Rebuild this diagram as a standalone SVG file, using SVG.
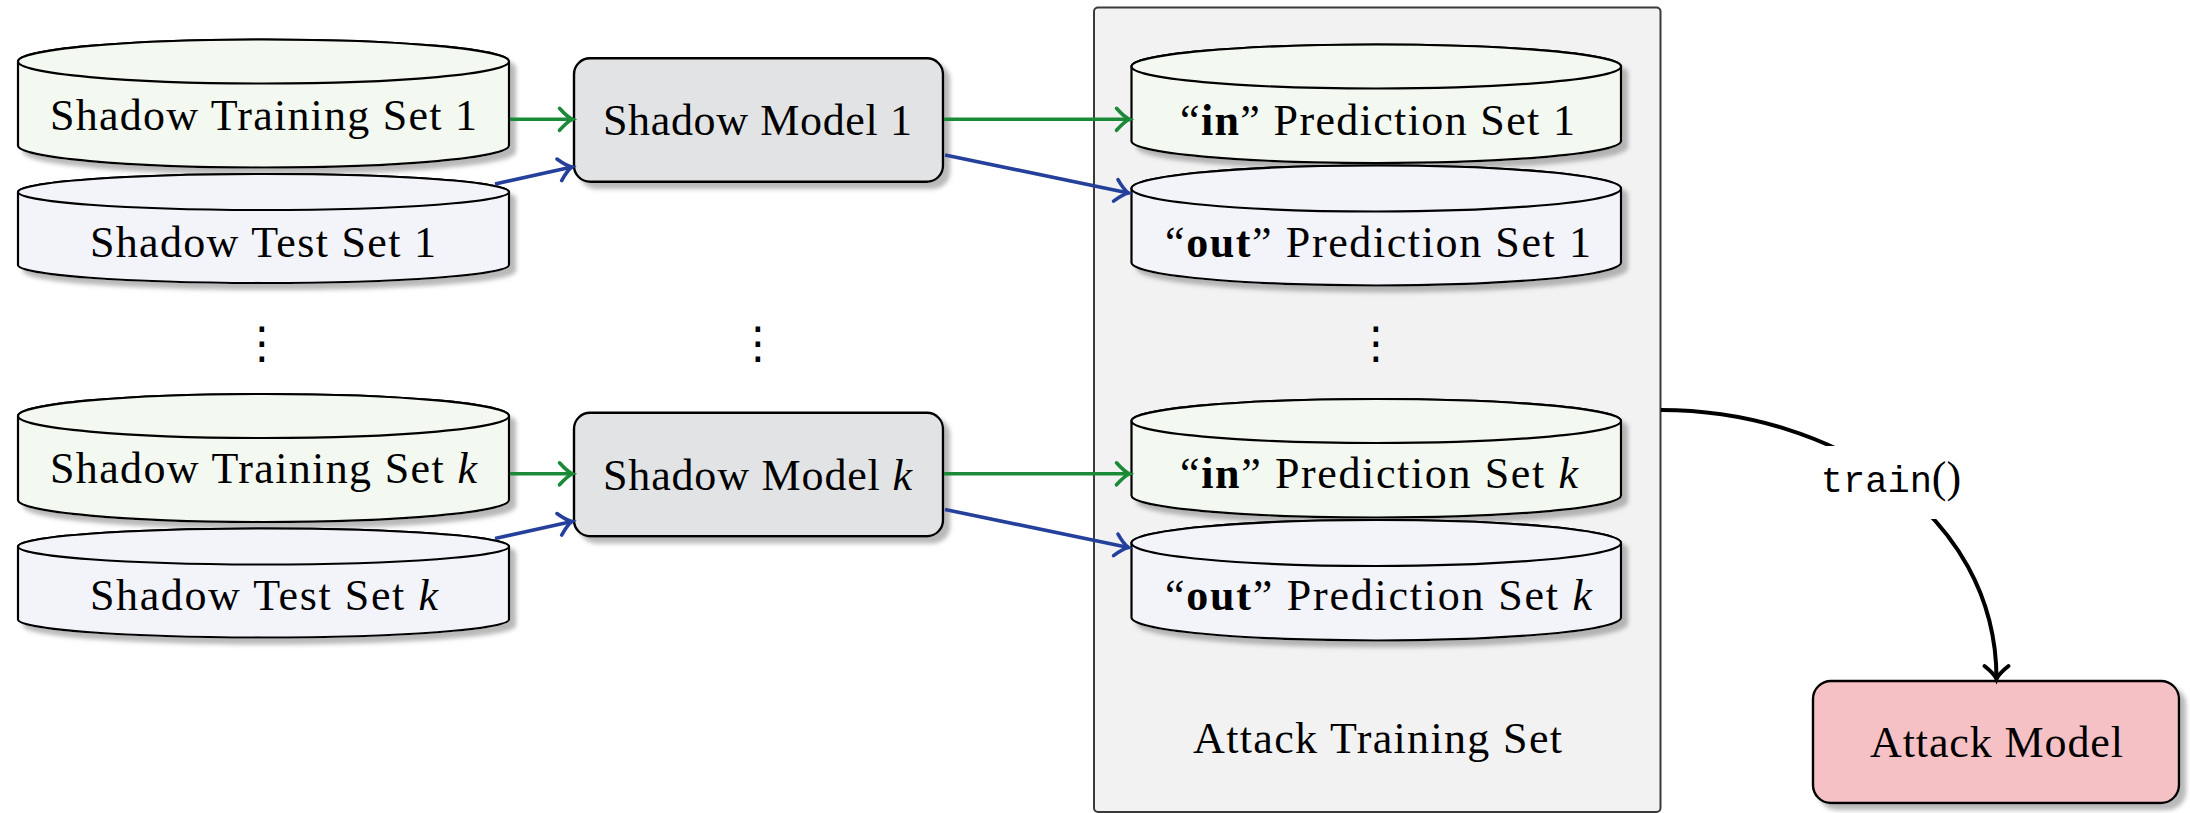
<svg xmlns="http://www.w3.org/2000/svg" width="2190" height="813" viewBox="0 0 2190 813">
<style>
.t{font-family:"Liberation Serif","Times New Roman",serif;font-size:44px;text-anchor:middle;fill:#000}
.b{font-weight:bold}
.i{font-style:italic}
.cyl{stroke:#000;stroke-width:2.2;filter:url(#ds)}
.top{stroke:#000;stroke-width:2.2}
.g{fill:#f3f8f0}
.l{fill:#f3f3fa}
.box{stroke:#000;stroke-width:2.4;filter:url(#ds)}
.ag{fill:none;stroke:#1a8a38;stroke-width:3.6;marker-end:url(#mg)}
.ab{fill:none;stroke:#24409a;stroke-width:3.6;marker-end:url(#mb)}
.ak{fill:none;stroke:#000;stroke-width:4;marker-end:url(#mk)}
.dots{font-family:"DejaVu Sans",sans-serif;font-size:44px;text-anchor:middle;fill:#000}
</style>
<defs>
<filter id="ds" x="-5%" y="-10%" width="115%" height="135%">
<feGaussianBlur in="SourceAlpha" stdDeviation="2"/>
<feOffset dx="6" dy="6" result="o"/>
<feFlood flood-color="#808080" flood-opacity="0.55"/>
<feComposite in2="o" operator="in"/>
<feMerge><feMergeNode/><feMergeNode in="SourceGraphic"/></feMerge>
</filter>
<marker id="mg" markerUnits="userSpaceOnUse" markerWidth="32" markerHeight="32" viewBox="-17 -16 22 32" refX="0" refY="0" orient="auto"><path d="M-13,-11 Q-5,-2 0,0 Q-5,2 -13,11" fill="none" stroke="#1a8a38" stroke-width="3.6" stroke-linecap="round"/></marker>
<marker id="mb" markerUnits="userSpaceOnUse" markerWidth="32" markerHeight="32" viewBox="-17 -16 22 32" refX="0" refY="0" orient="auto"><path d="M-13,-11 Q-5,-2 0,0 Q-5,2 -13,11" fill="none" stroke="#24409a" stroke-width="3.6" stroke-linecap="round"/></marker>
<marker id="mk" markerUnits="userSpaceOnUse" markerWidth="32" markerHeight="32" viewBox="-17 -16 22 32" refX="0" refY="0" orient="auto"><path d="M-13,-12 Q-5,-2 0,0 Q-5,2 -13,12" fill="none" stroke="#000" stroke-width="4" stroke-linecap="round"/></marker>
</defs>
<rect width="2190" height="813" fill="#fff"/>

<g id="attack-training-set">
<rect x="1094" y="7.5" width="566.5" height="804.5" rx="4" fill="#f2f2f2" stroke="#3a3a3a" stroke-width="2"/>
<text class="t" x="1377.5" y="753.3" textLength="369">Attack Training Set</text>
</g>

<g id="shadow-training-1">
<path class="cyl g" d="M18,61.5 L18,145.5 A245.5,22 0 0 0 509,145.5 L509,61.5 A245.5,22 0 0 0 18,61.5 Z"/>
<ellipse class="top g" cx="263.5" cy="61.5" rx="245.5" ry="22"/>
<text class="t" x="263.5" y="130" textLength="427">Shadow Training Set 1</text>
</g>
<g id="shadow-test-1">
<path class="cyl l" d="M18,192 L18,265 A245.5,18 0 0 0 509,265 L509,192 A245.5,18 0 0 0 18,192 Z"/>
<ellipse class="top l" cx="263.5" cy="192" rx="245.5" ry="18"/>
<text class="t" x="263" y="256.7" textLength="346">Shadow Test Set 1</text>
</g>
<g id="shadow-training-k">
<path class="cyl g" d="M18,416 L18,500 A245.5,22 0 0 0 509,500 L509,416 A245.5,22 0 0 0 18,416 Z"/>
<ellipse class="top g" cx="263.5" cy="416" rx="245.5" ry="22"/>
<text class="t" x="263.5" y="483.3" textLength="427">Shadow Training Set <tspan class="i">k</tspan></text>
</g>
<g id="shadow-test-k">
<path class="cyl l" d="M18,546.5 L18,619.5 A245.5,18 0 0 0 509,619.5 L509,546.5 A245.5,18 0 0 0 18,546.5 Z"/>
<ellipse class="top l" cx="263.5" cy="546.5" rx="245.5" ry="18"/>
<text class="t" x="264" y="610" textLength="348">Shadow Test Set <tspan class="i">k</tspan></text>
</g>

<g id="shadow-model-1">
<rect class="box" x="574" y="58.3" width="369" height="123.4" rx="16" fill="#e2e3e5"/>
<text class="t" x="757.5" y="135" textLength="309">Shadow Model 1</text>
</g>
<g id="shadow-model-k">
<rect class="box" x="574" y="412.8" width="369" height="123.4" rx="16" fill="#e2e3e5"/>
<text class="t" x="757.5" y="489.5" textLength="309">Shadow Model <tspan class="i">k</tspan></text>
</g>

<g id="in-pred-1">
<path class="cyl g" d="M1131.5,66.5 L1131.5,141 A244.75,22 0 0 0 1621,141 L1621,66.5 A244.75,22 0 0 0 1131.5,66.5 Z"/>
<ellipse class="top g" cx="1376.25" cy="66.5" rx="244.75" ry="22"/>
<text class="t" x="1377.5" y="135" textLength="395">“<tspan class="b">in</tspan>” Prediction Set 1</text>
</g>
<g id="out-pred-1">
<path class="cyl l" d="M1131.5,188.5 L1131.5,262.5 A244.75,23 0 0 0 1621,262.5 L1621,188.5 A244.75,23 0 0 0 1131.5,188.5 Z"/>
<ellipse class="top l" cx="1376.25" cy="188.5" rx="244.75" ry="23"/>
<text class="t" x="1378" y="256.7" textLength="426">“<tspan class="b">out</tspan>” Prediction Set 1</text>
</g>
<g id="in-pred-k">
<path class="cyl g" d="M1131.5,421 L1131.5,495.5 A244.75,22 0 0 0 1621,495.5 L1621,421 A244.75,22 0 0 0 1131.5,421 Z"/>
<ellipse class="top g" cx="1376.25" cy="421" rx="244.75" ry="22"/>
<text class="t" x="1379" y="488.3" textLength="398">“<tspan class="b">in</tspan>” Prediction Set <tspan class="i">k</tspan></text>
</g>
<g id="out-pred-k">
<path class="cyl l" d="M1131.5,543 L1131.5,617.5 A244.75,23 0 0 0 1621,617.5 L1621,543 A244.75,23 0 0 0 1131.5,543 Z"/>
<ellipse class="top l" cx="1376.25" cy="543" rx="244.75" ry="23"/>
<text class="t" x="1378.5" y="610" textLength="427">“<tspan class="b">out</tspan>” Prediction Set <tspan class="i">k</tspan></text>
</g>

<g id="ellipses">
<text class="dots" x="262" y="358">⋮</text>
<text class="dots" x="758" y="358">⋮</text>
<text class="dots" x="1376" y="358">⋮</text>
</g>

<g id="attack-model">
<rect class="box" x="1813" y="681" width="366" height="122" rx="18" fill="#f6c1c5"/>
<text class="t" x="1996.5" y="756.7" textLength="253">Attack Model</text>
</g>

<g id="connectors">
<path class="ag" d="M510,119.3 L572.5,119.3"/>
<path class="ab" d="M495,184 L572,167"/>
<path class="ag" d="M944,119.3 L1129.5,119.3"/>
<path class="ab" d="M945,155 L1128.5,193"/>
<path class="ag" d="M510,473.8 L572.5,473.8"/>
<path class="ab" d="M495,538.5 L572,521.5"/>
<path class="ag" d="M944,473.8 L1129.5,473.8"/>
<path class="ab" d="M945,509.5 L1128.5,547.5"/>
<path class="ak" d="M1661,410 C1830,410 1996.5,512 1996.5,679"/>
<rect x="1812" y="446" width="160" height="73" fill="#fff"/>
<text x="1891" y="491.7" text-anchor="middle"><tspan font-family="Liberation Mono,Courier New,monospace" font-size="37">train</tspan><tspan font-family="Liberation Serif,Times New Roman,serif" font-size="44">()</tspan></text>
</g>
</svg>
